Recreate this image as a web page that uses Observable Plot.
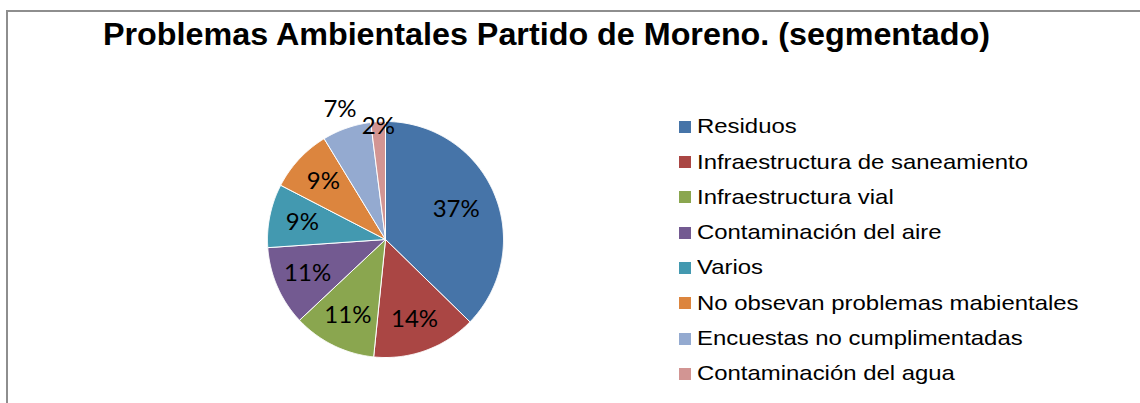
<!DOCTYPE html>
<html><head><meta charset="utf-8">
<script src="https://cdn.jsdelivr.net/npm/d3@7"></script>
<script src="https://cdn.jsdelivr.net/npm/@observablehq/plot@0.6"></script>
<style>
html,body{margin:0;padding:0;background:#fff;overflow:hidden}
#wrap{position:relative;width:1140px;height:403px;overflow:hidden;background:#fff}
#frame{position:absolute;left:6px;top:10px;width:1300px;height:600px;border-left:2px solid #8e8e8e;border-top:2px solid #8e8e8e;box-sizing:border-box}
#title{position:absolute;left:103px;top:18.7px;font:bold 31px "Liberation Sans",Arial,sans-serif;line-height:1;white-space:nowrap;transform-origin:0 0;color:#000}
#chart{position:absolute;left:0;top:0}
.sw{position:absolute;left:679px;width:12px;height:12px}
.lt{position:absolute;left:697px;font:21px "Liberation Sans",Arial,sans-serif;line-height:1;white-space:nowrap;transform-origin:0 0;color:#000}
</style></head>
<body>
<div id="wrap">
  <div id="frame"></div>
  <div id="chart"></div>
  <div id="title">Problemas Ambientales Partido de Moreno. (segmentado)</div>
</div>
<script>
const categories = ["Residuos","Infraestructura de saneamiento","Infraestructura vial","Contaminación del aire","Varios","No obsevan problemas mabientales","Encuestas no cumplimentadas","Contaminación del agua"];
const values = [37.3, 14.3, 11.4, 10.9, 8.7, 8.7, 6.7, 2.0];
const colors = ["#4674A8","#AA4644","#8AA64F","#735A91","#4399B0","#DC853E","#94AAD0","#D29593"];

const arcs = d3.pie().sort(null).value(d => d)(values);
const rows = [];
const labels = [];
arcs.forEach((a, i) => {
  const cat = categories[i];
  const n = Math.max(2, Math.ceil((a.endAngle - a.startAngle) / (Math.PI / 360)));
  rows.push({cat, x: 0, y: 0});
  for (let k = 0; k <= n; k++) {
    const t = a.startAngle + (a.endAngle - a.startAngle) * k / n;
    rows.push({cat, x: Math.sin(t), y: Math.cos(t)});
  }
  rows.push({cat, x: 0, y: 0});
  const m = (a.startAngle + a.endAngle) / 2;
  const v = values[i];
  const f = v >= 30 ? 0.65 : v >= 8 ? 0.72 : v >= 5 ? 1.17 : 0.96;
  labels.push({x: f * Math.sin(m), y: f * Math.cos(m), t: Math.round(v) + "%"});
});

const chart = Plot.plot({
  width: 1140,
  height: 403,
  x: {domain: [-1, 1], range: [267, 503], axis: null},
  y: {domain: [-1, 1], range: [357, 121], axis: null},
  color: {domain: categories, range: colors},
  style: {background: "transparent", overflow: "visible"},
  marks: [
    Plot.line(rows, {x: "x", y: "y", z: "cat", fill: "cat", stroke: "white", strokeWidth: 1, curve: "linear", strokeLinejoin: "round"}),
    Plot.text(labels, {x: "x", y: "y", text: "t", fontSize: 24, fontFamily: "Lato", fill: "#000"})
  ]
});
document.getElementById("chart").appendChild(chart);

// title width fit
const title = document.getElementById("title");
const tw = title.getBoundingClientRect().width;
title.style.transform = `scaleX(${887 / tw})`;

// legend
const wrap = document.getElementById("wrap");
const spans = [];
categories.forEach((c, i) => {
  const sw = document.createElement("div");
  sw.className = "sw";
  sw.style.top = (120.7 + i * 35.3) + "px";
  sw.style.background = colors[i];
  wrap.appendChild(sw);
  const lt = document.createElement("div");
  lt.className = "lt";
  lt.style.top = (133 + i * 35.3 - 17.8) + "px";
  lt.textContent = c;
  wrap.appendChild(lt);
  spans.push(lt);
});
const ref = spans[1].getBoundingClientRect().width;
const k = 331 / ref;
spans.forEach(s => s.style.transform = `scaleX(${k})`);
</script>
</body></html>
